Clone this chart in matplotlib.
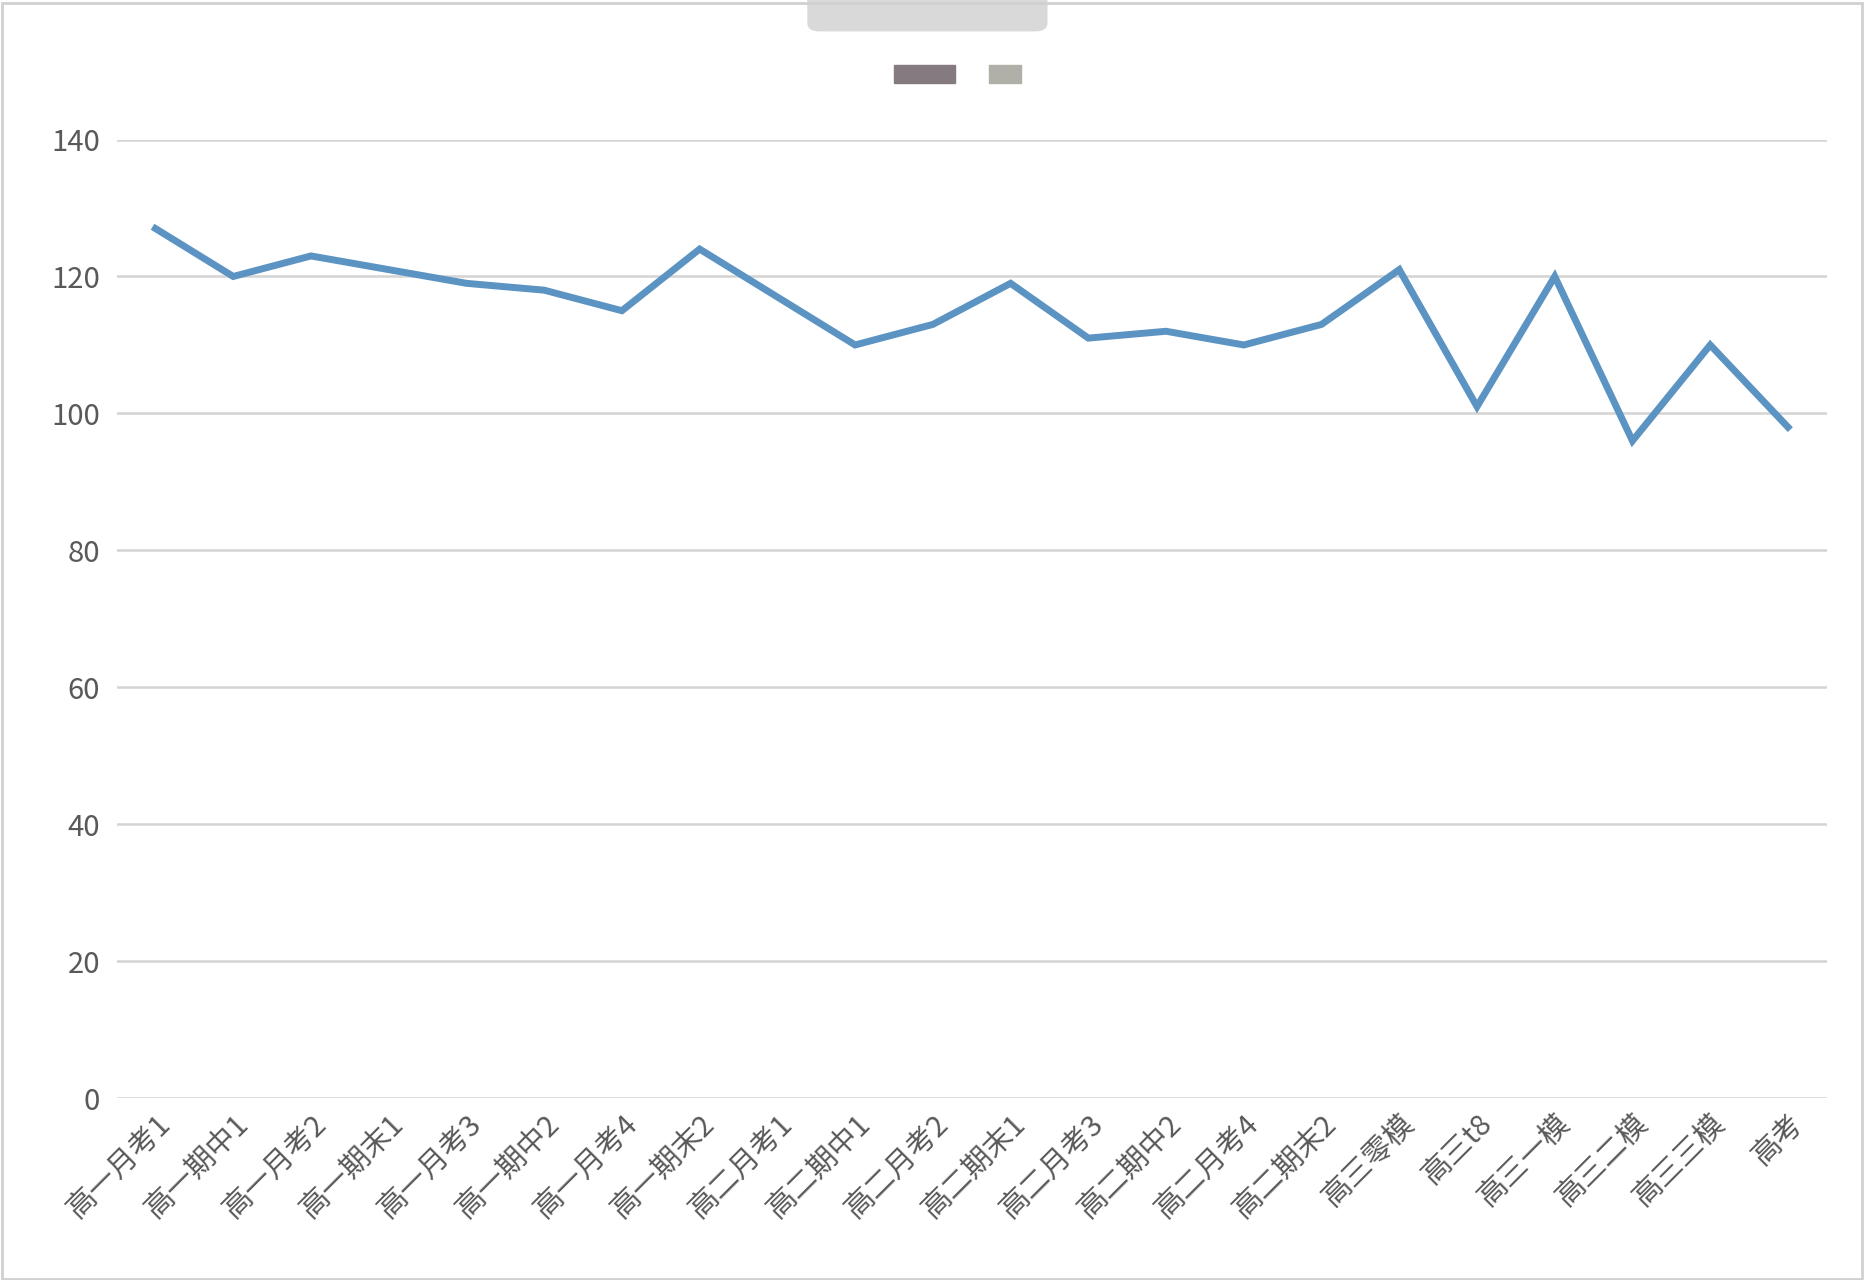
import matplotlib
matplotlib.use("Agg")
import matplotlib.pyplot as plt
from matplotlib.patches import Rectangle, FancyBboxPatch

plt.rcParams['font.family'] = ['Noto Sans CJK SC', 'DejaVu Sans']

exams = ["高一月考1", "高一期中1", "高一月考2", "高一期末1", "高一月考3", "高一期中2",
         "高一月考4", "高一期末2", "高二月考1", "高二期中1", "高二月考2", "高二期末1",
         "高二月考3", "高二期中2", "高二月考4", "高二期末2", "高三零模", "高三t8",
         "高三一模", "高三二模", "高三三模", "高考"]
scores = [127, 120, 123, 121, 119, 118, 115, 124, 117, 110, 113, 119,
          111, 112, 110, 113, 121, 101, 120, 96, 110, 98]
yticks = [0, 20, 40, 60, 80, 100, 120, 140]

fig = plt.figure(figsize=(18.66, 12.8), dpi=100)
ax = fig.add_axes([0.0625, 0.142, 0.9165, 0.749])
x = range(len(exams))
ax.plot(x, scores, color="#5b93c3", linewidth=5, solid_joinstyle="miter")
ax.set_xlim(-0.5, len(exams) - 0.5)
ax.set_ylim(0, 140)
ax.set_yticks(yticks)
ax.yaxis.grid(True, color="#d4d4d4", linewidth=1.8)
ax.set_axisbelow(True)
for s in ax.spines.values():
    s.set_visible(False)
ax.tick_params(length=0, labelsize=21, labelcolor="#595959", pad=12)
ax.tick_params(axis="x", pad=8)
ax.set_xticks(list(x))
ax.set_xticklabels(exams, rotation=45, ha="right", rotation_mode="anchor")

# legend remnants and top tab
fig.patches.append(FancyBboxPatch((0.433, 0.976), 0.128, 0.03, boxstyle="round,pad=0,rounding_size=0.006",
                                  transform=fig.transFigure, color="#d9d9d9"))
fig.patches.append(Rectangle((0.479, 0.935), 0.033, 0.014, transform=fig.transFigure, color="#857a80"))
fig.patches.append(Rectangle((0.530, 0.935), 0.017, 0.014, transform=fig.transFigure, color="#b0b0a8"))
fig.patches.append(Rectangle((0.001, 0.001), 0.997, 0.997, transform=fig.transFigure,
                             fill=False, edgecolor="#d0d0d0", linewidth=2))

fig.savefig("out.png", dpi=100)
